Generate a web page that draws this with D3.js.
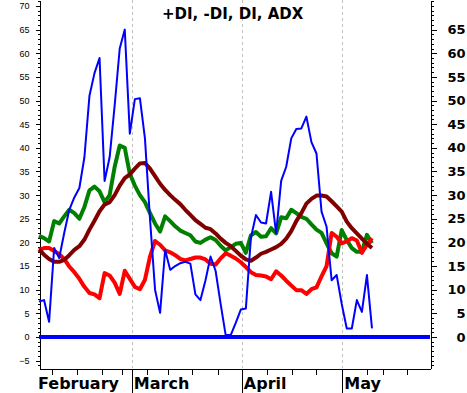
<!DOCTYPE html>
<html>
<head>
<meta charset="utf-8">
<script src="https://cdn.jsdelivr.net/npm/d3@7"></script>
<style>
  body { margin: 0; background: #fff; }
  .leftAxis text { font-family: "Liberation Sans", Arial, sans-serif; font-size: 9px; }
  .rightAxis text { font-family: "DejaVu Sans", Verdana, sans-serif; font-size: 13px; font-weight: bold; }
  .month { font-family: "DejaVu Sans", Verdana, sans-serif; font-size: 16px; font-weight: bold; }
  .title { font-family: "DejaVu Sans", Verdana, sans-serif; font-size: 15px; font-weight: bold; }
</style>
</head>
<body>
<div id="chart"></div>
<script>
// one value per trading day, Feb 1 .. early May
var diValues = [7.5, 7.8, 3.2, 18.8, 16.7, 22, 26.9, 29.5, 31.5, 38, 51, 55.8, 59, 33, 38,
  49, 61, 65, 43, 50.3, 50.5, 42, 25, 10, 5.1, 18.4, 14.2, 15, 15.6, 15.9,
  15.5, 9, 7.8, 12, 17, 14, 7, 0.4, 0.4, 3, 5.8, 6, 21, 25.8, 24.2,
  24, 30.7, 21.9, 33, 36, 42, 44, 44.1, 46.6, 41.2, 38.8, 26.5, 23.3, 12, 13.1,
  7, 1.8, 1.8, 7.8, 5.3, 13.1, 1.8];

var plusDI = [21.4, 20.9, 20.2, 24.5, 24, 25.5, 26.9, 26.2, 25, 27.5, 31, 31.8, 30.8, 28.5, 30,
  36, 40.5, 40, 34.5, 32, 30, 28.5, 26.2, 24, 22.3, 25.5, 24.5, 23.4, 22.5, 22,
  21.5, 20.2, 19.9, 20.6, 21.1, 20.5, 19.3, 18.3, 19, 19.7, 19.9, 17.8, 21.5, 22.2, 21.2,
  21.3, 23, 21.9, 25.3, 25.1, 26.9, 26.2, 25.4, 25, 23.8, 22.7, 22, 19.8, 17.7, 17,
  22.6, 20.5, 18.8, 18, 18, 21.6, 19.8];

var minusDI = [18.4, 18.8, 18.8, 18.2, 17.5, 16.5, 14.9, 13.7, 12.3, 10.6, 9.3, 9, 8.2, 13.5, 13,
  11.5, 9.1, 14, 12.3, 10.6, 10.1, 12.1, 17, 20.3, 19.5, 18.3, 17.9, 17.3, 16.5, 16.2,
  16.5, 16.8, 16.8, 16.4, 15.5, 15.3, 16.6, 17.7, 17.2, 16.6, 15.8, 14.8, 13.7, 13.1, 13,
  12.8, 12.2, 13.9, 13, 11.9, 10.9, 9.9, 9.9, 9.1, 10.1, 10.5, 12.8, 15, 22, 21.2,
  19.8, 20.2, 20.9, 20.4, 17.8, 19.5, 20.9];

var adxValues = [18.5, 17.4, 16.5, 15.9, 15.9, 16.3, 17.3, 18.4, 19.2, 20.6, 22.7, 24.6, 26.6, 28, 28.5,
  30, 32, 33.6, 34.4, 35.6, 36.7, 36.8, 35.6, 34, 32.4, 31.1, 30, 29, 28.1, 26.9,
  25.8, 24.7, 23.9, 23.1, 22.8, 21.9, 20.8, 19.9, 19.2, 18.2, 17.2, 16.4, 16.1, 16.8, 17.6,
  18, 18.5, 19, 19.7, 20.8, 22.4, 24.5, 26.2, 28.2, 29.2, 29.9, 29.9, 29.7, 28.7, 27.6,
  26.5, 24.4, 23, 21.9, 20.8, 19.7, 18.8];

var monthNames = ["February", "March", "April", "May"];
var monthStarts = [0, 18.4, 40.2, 60.1];
var weekTicks = [2.6, 7.6, 12.5, 16.5, 21.5, 25.6, 30.4, 35.4, 45.1, 50.2, 55, 65, 68.1, 72.9];
var leftTicks = d3.range(-5, 71, 5);
var rightTicks = d3.range(0, 66, 5);
var minorTicks = d3.range(-6, 72, 1);

var svgWidth = 467;
var svgHeight = 393;

var svg = d3.select("#chart")
  .append("svg")
  .attr("width", svgWidth)
  .attr("height", svgHeight);

// scales
var xScale = d3.scaleLinear().domain([0, 77.5]).range([39, 430]);
var yScale = d3.scaleLinear().domain([-6.56, 71.26]).range([368, 0]);

// dashed month gridlines
svg.append("g")
  .selectAll("line")
  .data(monthStarts.slice(1))
  .enter()
  .append("line")
  .attr("x1", d => Math.round(xScale(d)) + 0.5)
  .attr("x2", d => Math.round(xScale(d)) + 0.5)
  .attr("y1", 0)
  .attr("y2", 368)
  .attr("stroke", "#c0c0c0")
  .attr("stroke-dasharray", "3,3");

// left axis, minor then major
svg.append("g")
  .attr("transform", "translate(39.5,0)")
  .call(d3.axisLeft(yScale).tickValues(minorTicks).tickSize(2).tickSizeOuter(0).tickFormat(""));
svg.append("g")
  .attr("class", "leftAxis")
  .attr("transform", "translate(39.5,0)")
  .call(d3.axisLeft(yScale).tickValues(leftTicks).tickSize(4).tickSizeOuter(0).tickPadding(6));

// right axis
svg.append("g")
  .attr("transform", "translate(430.5,0)")
  .call(d3.axisRight(yScale).tickValues(minorTicks).tickSize(3).tickSizeOuter(0).tickFormat(""));
var rightAxis = svg.append("g")
  .attr("class", "rightAxis")
  .attr("transform", "translate(430.5,0)")
  .call(d3.axisRight(yScale).tickValues(rightTicks).tickSize(6).tickSizeOuter(0));
rightAxis.selectAll("text").attr("text-anchor", "end").attr("x", 35);

// bottom axis with week ticks and month separators
svg.append("g")
  .attr("transform", "translate(0,368.5)")
  .call(d3.axisBottom(xScale).tickValues(weekTicks).tickSize(6).tickSizeOuter(0).tickFormat(""));
svg.append("g")
  .attr("transform", "translate(0,368.5)")
  .call(d3.axisBottom(xScale).tickValues(monthStarts.slice(1)).tickSize(25).tickSizeOuter(0).tickFormat(""))
  .select(".domain").remove();

svg.selectAll("g path.domain, g line").attr("shape-rendering", "crispEdges");

// month labels
svg.append("g")
  .selectAll("text")
  .data(monthNames)
  .enter()
  .append("text")
  .attr("class", "month")
  .attr("x", (d, i) => i === 0 ? xScale(monthStarts[i]) - 1 : xScale(monthStarts[i]) + 2)
  .attr("y", 389)
  .text(d => d);

// zero line
svg.append("line")
  .attr("x1", xScale(0))
  .attr("x2", xScale(77.5))
  .attr("y1", yScale(0))
  .attr("y2", yScale(0))
  .attr("stroke", "#0000ff")
  .attr("stroke-width", 4);

// series lines
var line = d3.line()
  .x((d, i) => xScale(i))
  .y(d => yScale(d));

var series = [
  { values: plusDI, color: "#008000", width: 4 },
  { values: minusDI, color: "#ff0000", width: 4 },
  { values: adxValues, color: "#800000", width: 4 },
  { values: diValues, color: "#0000ff", width: 2 }
];

svg.selectAll(".series")
  .data(series)
  .enter()
  .append("path")
  .attr("class", "series")
  .attr("d", d => line(d.values))
  .attr("fill", "none")
  .attr("stroke", d => d.color)
  .attr("stroke-width", d => d.width)
  .attr("stroke-linejoin", "round");

// title
svg.append("text")
  .attr("class", "title")
  .attr("x", 162)
  .attr("y", 19)
  .text("+DI, -DI, DI, ADX");
</script>
</body>
</html>
